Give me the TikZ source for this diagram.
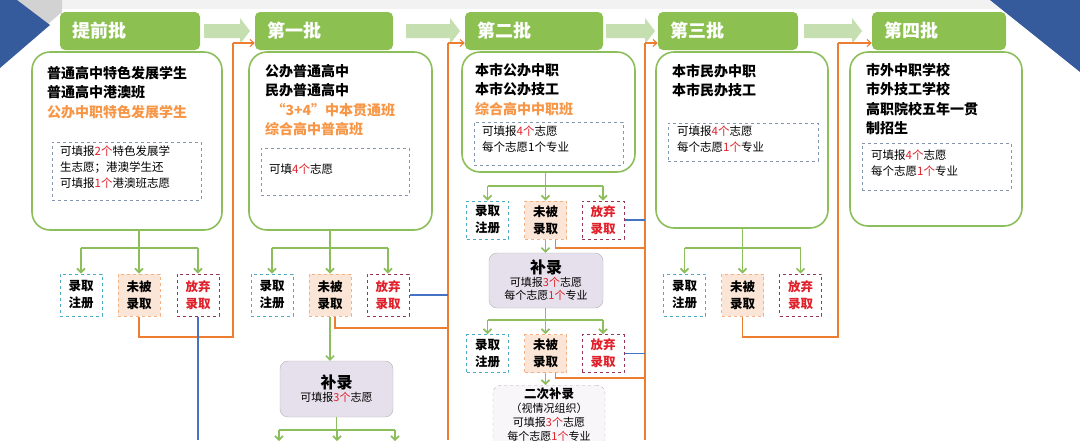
\documentclass[tikz,border=0pt]{standalone}
\usepackage{fontspec}
\setmainfont{Noto Sans CJK SC}
\usetikzlibrary{arrows.meta}
\definecolor{gfill}{HTML}{8CC152}
\definecolor{gline}{HTML}{8DBE5C}
\definecolor{ga}{HTML}{C5DFB0}
\definecolor{org}{HTML}{ED7D31}
\definecolor{otext}{HTML}{F79646}
\definecolor{blu}{HTML}{4472C4}
\definecolor{rd}{HTML}{E0202A}
\definecolor{teal}{HTML}{4BACC6}
\definecolor{pch}{HTML}{F4B183}
\definecolor{pchf}{HTML}{FBE5D6}
\definecolor{mar}{HTML}{953553}
\definecolor{dgr}{HTML}{8496B0}
\definecolor{lav}{HTML}{E6E0EC}
\begin{document}
\begin{tikzpicture}[x=1pt,y=-1pt,
  tab/.style={fill=gfill,rounded corners=5pt,minimum height=38pt,text=white,font=\fontsize{18}{18}\selectfont\bfseries,align=left,inner xsep=12pt,anchor=center},
  mbox/.style={draw=gline,line width=1.6pt,rounded corners=18pt,fill=white},
  htxt/.style={anchor=north west,align=left,inner sep=0pt,font=\fontsize{14}{19.5}\selectfont\bfseries},
  stxt/.style={anchor=north west,align=left,inner sep=0pt,font=\fontsize{11.5}{16}\selectfont},
  dbox/.style={draw=dgr,dashed,line width=0.8pt},
  sb/.style={minimum width=42pt,minimum height=42pt,inner sep=0pt,align=center,line width=1pt,dashed,font=\fontsize{12.5}{17}\selectfont\bfseries},
  reg/.style={sb,draw=teal},
  una/.style={sb,draw=pch,fill=pchf},
  aba/.style={sb,draw=mar,text=rd},
  garrow/.style={draw=gline,line width=1.6pt,-{Straight Barb[length=4pt,width=8pt]}},
  gl/.style={draw=gline,line width=1.6pt},
  oarrow/.style={draw=org,line width=1.1pt,-{Straight Barb[length=4pt,width=7pt]}},
  ol/.style={draw=org,line width=1.1pt},
  bl/.style={draw=blu,line width=1.1pt},
  bigarrow/.style={fill=ga}]
\useasboundingbox (0,0) rectangle (1080,440);
\fill[gray!10] (0,0) rectangle (1080,9);
\fill[gray!35] (17,0)--(62,0)--(62,12)--(48,24)--cycle;
\fill[blu!80!black] (0,0)--(17,0)--(50,25)--(0,68)--cycle;
\fill[blu!80!black] (990,0)--(1080,0)--(1080,72)--cycle;
% big arrows
\foreach \a/\b in {204/250,406/460,606/655,804/862}{
  \fill[bigarrow] (\a,24)--(\b-10,24)--(\b-10,18)--(\b,31)--(\b-10,44)--(\b-10,38)--(\a,38)--cycle;}
% tabs
\node[tab,minimum width=140pt,text width=116pt] (T0) at (130,31) {提前批};
\node[tab,minimum width=138pt,text width=114pt] (T1) at (324,31) {第一批};
\node[tab,minimum width=138pt,text width=114pt] (T2) at (534,31) {第二批};
\node[tab,minimum width=140pt,text width=116pt] (T3) at (728,31) {第三批};
\node[tab,minimum width=134pt,text width=110pt] (T4) at (939,31) {第四批};
% main boxes
\node[mbox,minimum width=190pt,minimum height=178pt] (B0) at (127,141) {};
\node[mbox,minimum width=183pt,minimum height=178pt] (B1) at (340.5,141) {};
\node[mbox,minimum width=173pt,minimum height=120pt] (B2) at (548.5,112) {};
\node[mbox,minimum width=172pt,minimum height=176pt] (B3) at (742,140) {};
\node[mbox,minimum width=172pt,minimum height=174pt] (B4) at (936,139) {};
% texts
\node[htxt] (t0) at (47,66) {普通高中特色发展学生\\普通高中港澳班\\\textcolor{otext}{公办中职特色发展学生}};
\node[dbox,minimum width=149pt,minimum height=58pt] (d0) at (126.5,171) {};
\node[stxt] (s0) at (60,146) {可填报\textcolor{rd}{2个}特色发展学\\生志愿；港澳学生还\\可填报\textcolor{rd}{1个}港澳班志愿};
\node[htxt] (t1) at (265,64) {公办普通高中\\民办普通高中\\\textcolor{otext}{\ \ “3+4”中本贯通班}\\\textcolor{otext}{综合高中普高班}};
\node[dbox,minimum width=148pt,minimum height=47pt] (d1) at (335,171.5) {};
\node[stxt] (s1) at (269,164) {可填\textcolor{rd}{4个}志愿};
\node[htxt] (t2) at (475,63) {本市公办中职\\本市公办技工\\\textcolor{otext}{综合高中中职班}};
\node[dbox,minimum width=149pt,minimum height=43pt] (d2) at (548.5,143.5) {};
\node[stxt] (s2) at (482,126) {可填报\textcolor{rd}{4个}志愿\\每个志愿1个专业};
\node[htxt] (t3) at (672,64) {本市民办中职\\本市民办技工};
\node[dbox,minimum width=150pt,minimum height=38pt] (d3) at (743,142) {};
\node[stxt] (s3) at (677,126) {可填报\textcolor{rd}{4个}志愿\\每个志愿\textcolor{rd}{1个}专业};
\node[htxt] (t4) at (866,63) {市外中职学校\\市外技工学校\\高职院校五年一贯\\制招生};
\node[dbox,minimum width=149pt,minimum height=47pt] (d4) at (936.5,166.5) {};
\node[stxt] (s4) at (871,150) {可填报\textcolor{rd}{4个}志愿\\每个志愿\textcolor{rd}{1个}专业};
% small boxes
\node[reg] (r0) at (81,295) {录取\\注册};
\node[una] (m0) at (139,295) {未被\\录取};
\node[aba] (a0) at (198,295) {放弃\\录取};
\node[reg] (r1) at (272,295) {录取\\注册};
\node[una] (m1) at (330,295) {未被\\录取};
\node[aba] (a1) at (388,295) {放弃\\录取};
\node[reg] (r3) at (684.5,295) {录取\\注册};
\node[una] (m3) at (742.5,295) {未被\\录取};
\node[aba] (a3) at (800.5,295) {放弃\\录取};
\node[reg,minimum height=38pt] (r2) at (487.5,220) {录取\\注册};
\node[una,minimum height=38pt] (m2) at (545.5,220) {未被\\录取};
\node[aba,minimum height=38pt] (a2) at (603,220) {放弃\\录取};
\node[reg,minimum height=38pt] (r4) at (487.5,353.5) {录取\\注册};
\node[una,minimum height=38pt] (m4) at (545.5,353.5) {未被\\录取};
\node[aba,minimum height=38pt] (a4) at (603,353.5) {放弃\\录取};
% bulu
\node[draw=gray!60,fill=lav,rounded corners=8pt,minimum width=114pt,minimum height=55pt,align=center,inner sep=0pt,font=\fontsize{11}{13}\selectfont] (bl2) at (546,280.5) {{\fontsize{16}{20}\selectfont\bfseries 补录}\\可填报\textcolor{rd}{3个}志愿\\每个志愿\textcolor{rd}{1个}专业};
\node[draw=gray!60,fill=lav,rounded corners=8pt,minimum width=113pt,minimum height=56pt,align=center,inner sep=0pt,font=\fontsize{11}{13}\selectfont] (bl1) at (336.5,389) {{\fontsize{16}{20}\selectfont\bfseries 补录}\\可填报\textcolor{rd}{3个}志愿};
\node[draw=gray!60,dashed,fill=lav!30,rounded corners=8pt,minimum width=112pt,minimum height=70pt,anchor=north,align=center,inner sep=0pt,font=\fontsize{11}{14}\selectfont] (bl3) at (549,385) {};
\node[anchor=north,align=center,inner sep=0pt,font=\fontsize{11}{14}\selectfont] (bl3t) at (549,388) {{\bfseries\fontsize{12.5}{14}\selectfont 二次补录}\\（视情况组织）\\可填报\textcolor{rd}{3个}志愿\\每个志愿\textcolor{rd}{1个}专业};
% green branches
\foreach \m/\l/\r/\y in {m0/r0/a0/248, m1/r1/a1/248, m3/r3/a3/248, m2/r2/a2/186, m4/r4/a4/320}{
  \draw[gl] (\l.north |- 0,\y) -- (\r.north |- 0,\y);
  \draw[garrow] (\l.north |- 0,\y) -- (\l.north);
  \draw[garrow] (\r.north |- 0,\y) -- (\r.north);}
\draw[garrow] (B0.south -| m0) -- (m0.north);
\draw[garrow] (B1.south -| m1) -- (m1.north);
\draw[garrow] (B3.south -| m3) -- (m3.north);
\draw[garrow] (B2.south -| m2) -- (m2.north);
\draw[garrow] (bl2.south -| m4) -- (m4.north);
\draw[garrow] (m2.south) -- (bl2.north -| m2);
\draw[garrow] (m4.south) -- (bl3.north -| m4);
\draw[garrow] (m1.south) -- (bl1.north -| m1);
\draw[gl] (bl1.south) -- (bl1.south |- 0,430);
\draw[gl] (279,430) -- (395,430);
\foreach \x in {279,337,395}{\draw[garrow] (\x,430) -- (\x,441);}
% orange
\draw[ol] (m0.south) |- (233,337) -- (233,43);
\draw[oarrow] (233,43) -- (T1.west |- 0,43);
\draw[ol] ([xshift=5pt]m1.south) |- (448,328);
\draw[ol] (448,440) -- (448,43);
\draw[oarrow] (448,43) -- (T2.west |- 0,43);
\draw[ol] ([xshift=10pt]m2.south) |- (645,248);
\draw[ol] ([xshift=10pt]m4.south) |- (645,378);
\draw[ol] (645,440) -- (645,43);
\draw[oarrow] (645,43) -- (T3.west |- 0,43);
\draw[ol] (m3.south) |- (838,337) -- (838,43);
\draw[oarrow] (838,43) -- (T4.west |- 0,43);
% blue
\draw[bl] (a0.south) -- (a0.south |- 0,440);
\draw[bl] (a1.east) -- (a1.east -| 448,0);
\draw[bl] (a2.east) -- (a2.east -| 645,0);
\draw[bl] (a4.east) -- (a4.east -| 645,0);
\end{tikzpicture}
\end{document}
